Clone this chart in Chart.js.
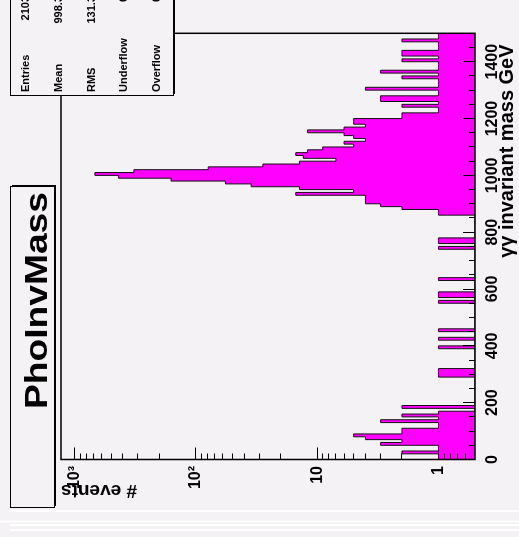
<!DOCTYPE html>
<html>
<head>
<meta charset="utf-8">
<script src="https://cdn.jsdelivr.net/npm/chart.js@4.4.1/dist/chart.umd.min.js"></script>
<style>
  html, body { margin: 0; padding: 0; background: #f5f2f5; overflow: hidden; }
  #wrap {
    position: absolute; left: 0; top: 0; width: 537px; height: 519px;
    transform-origin: 0 0;
    transform: translate(0, 537px) rotate(-90deg);
  }
</style>
</head>
<body>
<div id="wrap"><canvas id="grafica" width="537" height="519"></canvas></div>
<script>
// histograma PhoInvMass, bins de 10 GeV entre 0 y 1500
const binWidth = 10;
const massMin = 0;
const massMax = 1500;
const counts = [
  1, 1, 2, 1, 1, 3, 2, 4, 5, 2,          // 0 - 90
  2, 1, 1, 3, 1, 2, 1, 0, 2, 0,          // 100 - 190
  0, 0, 0, 0, 0, 0, 0, 0, 0, 1,          // 200 - 290
  1, 1, 0, 0, 0, 0, 0, 0, 0, 1,          // 300 - 390
  0, 0, 1, 0, 0, 1, 0, 0, 0, 0,          // 400 - 490
  0, 0, 0, 0, 0, 1, 0, 1, 1, 0,          // 500 - 590
  0, 0, 0, 1, 0, 0, 0, 0, 0, 0,          // 600 - 690
  0, 0, 0, 0, 1, 0, 1, 1, 0, 0,          // 700 - 790
  0, 0, 0, 0, 0, 0, 1, 1, 2, 3,          // 800 - 890
  4, 4, 4, 15, 5, 14, 35, 57, 160, 434,  // 900 - 990
  679, 324, 79, 28, 14, 7, 13, 15, 12, 9,// 1000 - 1090
  5, 6, 4, 5, 6, 12, 6, 4, 5, 5,         // 1100 - 1190
  2, 2, 1, 1, 2, 1, 3, 3, 1, 1,          // 1200 - 1290
  4, 1, 1, 1, 2, 1, 3, 1, 1, 1,          // 1300 - 1390
  2, 1, 2, 2, 1, 1, 1, 2, 1, 1           // 1400 - 1490
];
const massTicks = [0, 200, 400, 600, 800, 1000, 1200, 1400];
const massMinorTicks = [50, 100, 150, 250, 300, 350, 450, 500, 550, 650, 700, 750, 850, 900, 950,
                        1050, 1100, 1150, 1250, 1300, 1350, 1450];
const eventTicks = [1, 10, 100, 1000];
const eventTickLabels = ['1', '10', '10²', '10³'];
const eventMinorTicks = [0.6, 0.7, 0.8, 0.9, 2, 3, 4, 5, 6, 7, 8, 9, 20, 30, 40, 50, 60, 70, 80, 90,
                         200, 300, 400, 500, 600, 700, 800, 900];
const eventsMin = 0.5;
const eventsMax = 1292;

const histTitle = 'PhoInvMass';
const statNames = ['Entries', 'Mean', 'RMS', 'Underflow', 'Overflow'];
const statValues = ['2103', '998.3', '131.3', '0', '0'];

const bg = '#f5f2f5';
const fam = '"Liberation Sans", Arial, Helvetica, sans-serif';
Chart.defaults.font.family = fam;

// puntos del contorno escalonado; los bins vacios van al piso del eje log (como ROOT)
const puntos = counts.map((c, i) => ({ x: massMin + i * binWidth, y: c > 0 ? c : eventsMin }));
puntos.push({ x: massMax, y: puntos[puntos.length - 1].y });

function caja(ctx, x, y, w, h, sombra) {
    ctx.fillStyle = '#000';
    ctx.fillRect(x + sombra, y + sombra, w, h);
    ctx.fillStyle = bg;
    ctx.fillRect(x, y, w, h);
    ctx.lineWidth = 1;
    ctx.strokeStyle = '#000';
    ctx.strokeRect(x + 0.5, y + 0.5, w, h);
}

const cajasPlugin = {
    id: 'cajas',
    beforeDraw(chart) {
        const ctx = chart.ctx;
        ctx.save();
        ctx.fillStyle = bg;
        ctx.fillRect(0, 0, chart.width, chart.height);
        ctx.restore();
    },
    afterDraw(chart) {
        const { ctx, chartArea: a } = chart;
        ctx.save();
        // marco
        ctx.strokeStyle = '#000';
        ctx.lineWidth = 1.5;
        ctx.strokeRect(a.left, a.top, a.right - a.left, a.bottom - a.top);

        // lineas claras del borde
        ctx.strokeStyle = '#ffffff';
        ctx.lineWidth = 2;
        [[26, 8], [15.5, 0], [12, 10], [7, 10]].forEach(([x, y0]) => {
            ctx.beginPath(); ctx.moveTo(x, y0); ctx.lineTo(x, chart.height); ctx.stroke();
        });

        // caja del titulo
        caja(ctx, 29, 10, 321, 44, 2);
        ctx.fillStyle = '#000';
        ctx.font = 'bold 31px ' + fam;
        ctx.textAlign = 'right';
        ctx.textBaseline = 'alphabetic';
        ctx.save();
        ctx.translate(345, 47);
        ctx.scale(1.2, 1);
        ctx.fillText(histTitle, 0, 0);
        ctx.restore();

        // caja de estadisticas
        caja(ctx, 441, 10, 110, 163, 2);
        ctx.fillStyle = '#000';
        ctx.font = 'bold 11px ' + fam;
        ctx.textBaseline = 'middle';
        statNames.forEach((n, i) => {
            const y = 26.3 + 32.6 * i;
            ctx.textAlign = 'left';
            ctx.fillText(n, 445, y);
            ctx.textAlign = 'right';
            ctx.fillText(statValues[i], 541, y);
        });
        ctx.restore();
    }
};

const tickGrid = (len) => ({ drawOnChartArea: false, drawTicks: true, tickLength: len, color: '#000', lineWidth: 1, z: 1 });

new Chart(document.getElementById('grafica'), {
    type: 'line',
    data: {
        datasets: [{
            label: histTitle,
            data: puntos,
            stepped: true,
            fill: 'start',
            backgroundColor: '#ff00ff',
            borderColor: '#111',
            borderWidth: 1,
            pointRadius: 0,
            xAxisID: 'x',
            yAxisID: 'y'
        }]
    },
    options: {
        responsive: false,
        animation: false,
        devicePixelRatio: 1,
        layout: { padding: { top: 61, right: 33.3, left: 0, bottom: 0 } },
        plugins: { legend: { display: false }, tooltip: { enabled: false } },
        scales: {
            x: {
                type: 'linear', min: massMin, max: massMax, position: 'bottom', weight: 1,
                afterBuildTicks: s => { s.ticks = massTicks.map(v => ({ value: v })); },
                afterFit: s => { s.height = 44; },
                ticks: { callback: v => String(v), font: { size: 16, weight: 'bold' }, color: '#000', padding: 19.5, maxRotation: 0, autoSkip: false },
                grid: tickGrid(-12),
                border: { display: false },
                title: { display: true, text: 'γγ invariant mass GeV  ', align: 'end', color: '#000',
                         font: { size: 20, weight: 'bold' }, padding: { top: 0, bottom: 0 } }
            },
            xMinor: {
                type: 'linear', min: massMin, max: massMax, position: 'bottom', weight: 0,
                afterBuildTicks: s => { s.ticks = massMinorTicks.map(v => ({ value: v })); },
                afterFit: s => { s.height = 0; },
                ticks: { display: false },
                grid: tickGrid(-6),
                border: { display: false }
            },
            y: {
                type: 'logarithmic', min: eventsMin, max: eventsMax, position: 'left', weight: 1,
                afterBuildTicks: s => { s.ticks = eventTicks.map(v => ({ value: v })); },
                afterFit: s => { s.width = 77.5; },
                ticks: { callback: v => eventTickLabels[eventTicks.indexOf(v)], font: { size: 16, weight: 'bold' }, color: '#000', padding: 18.5, autoSkip: false },
                grid: tickGrid(-12),
                border: { display: false },
                title: { display: true, text: '# events', align: 'end', color: '#000',
                         font: { size: 19, weight: 'bold' }, padding: { top: 35.6, bottom: 0 } }
            },
            yMinor: {
                type: 'logarithmic', min: eventsMin, max: eventsMax, position: 'left', weight: 0,
                afterBuildTicks: s => { s.ticks = eventMinorTicks.map(v => ({ value: v })); },
                afterFit: s => { s.width = 0; },
                ticks: { display: false },
                grid: tickGrid(-6),
                border: { display: false }
            }
        }
    },
    plugins: [cajasPlugin]
});
</script>
</body>
</html>
